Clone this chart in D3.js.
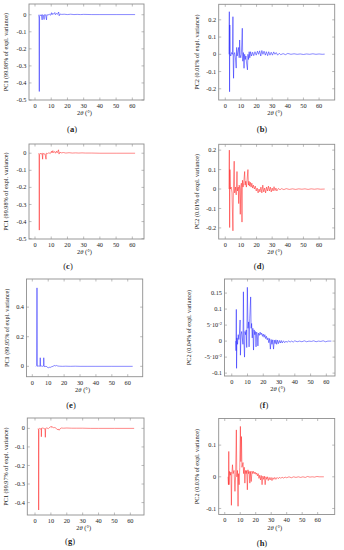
<!DOCTYPE html>
<html>
<head>
<meta charset="utf-8">
<script src="https://cdn.jsdelivr.net/npm/d3@7"></script>
<style>
  body { margin: 0; background: #fff; }
  svg { display: block; }
  text { font-family: "Liberation Serif", "DejaVu Serif", serif; fill: #222; }
</style>
</head>
<body>
<svg id="fig" width="344" height="550"></svg>
<script>
// ---- data: [2theta, loading] pairs ----
const seriesA = [[2.3,0],[2.5,-0.02],[2.65,-0.45],[2.8,-0.01],[3.2,0],[3.6,-0.005],[4.0,0],[4.4,-0.03],[4.6,0],[5.2,-0.003],[5.6,-0.028],[5.8,0],[6.5,0],[7.1,-0.03],[7.3,0],[8,-0.002],[8.8,0.003],[9.5,-0.003],[10.2,0.012],[10.5,0],[11,0.008],[11.5,0.003],[12.2,0.013],[12.6,0],[13.3,0.008],[13.8,0.002],[14.6,0.016],[14.9,-0.006],[15.4,0.004],[16.5,0.002],[18,0.003],[20,0.001],[22,0.003],[24,0.001],[26,0.002],[28,0.001],[30,0.002],[35,0.001],[40,0.001],[50,0.001],[61.7,0.001]];

const seriesB = [[2.4,0],[2.6,0.247],[2.75,-0.217],[2.9,0.17],[3.1,0.005],[3.5,-0.01],[4.0,0.01],[4.6,0],[4.9,0.218],[5.1,-0.05],[5.3,-0.139],[5.6,0],[6.0,0.01],[6.5,-0.02],[7.0,-0.08],[7.3,0.04],[7.6,-0.01],[8.2,0.02],[8.6,0.04],[8.9,-0.02],[9.2,0.083],[9.5,0],[9.9,-0.02],[10.3,0],[10.9,0.151],[11.2,-0.04],[11.6,0.01],[12.0,-0.081],[12.4,0],[12.8,-0.03],[13.2,-0.01],[13.6,-0.05],[14.2,-0.09],[14.5,0],[14.9,-0.03],[15.3,0.015],[15.7,-0.02],[16.2,0.015],[16.8,-0.01],[17.5,0.012],[18.2,-0.008],[19,0.015],[19.8,-0.005],[20.6,0.018],[21.3,0],[22,0.02],[22.7,-0.01],[23.4,0.022],[24.1,0],[24.8,0.018],[25.6,-0.005],[26.3,0.015],[27.1,-0.008],[27.8,0.015],[28.6,-0.005],[29.4,0.012],[30.2,-0.005],[31,0.014],[31.8,0],[32.6,0.01],[33.5,-0.005],[34.5,0.006],[35.5,-0.002],[37,0.004],[38.5,-0.002],[40,0.005],[42,0],[44,0.003],[46,0],[48,0.002],[50,-0.001],[52,0.002],[54,0],[56,0.003],[58,0],[60,0.002],[62,0],[63.6,0.001]];

const seriesC = [[2.3,0],[2.5,-0.01],[2.65,-0.45],[2.8,-0.01],[3.2,0],[3.8,-0.005],[4.4,0],[4.7,-0.035],[4.9,0],[5.5,-0.005],[6.2,-0.004],[6.8,-0.035],[7.0,0],[7.8,-0.002],[8.6,0.003],[9.4,-0.002],[10.2,0.012],[10.5,0.002],[11.0,0.015],[11.4,0.004],[12.0,0.01],[12.6,0],[13.2,0.012],[13.7,0.003],[14.5,0.02],[14.8,-0.005],[15.3,0.006],[16.2,0.002],[17.5,0.004],[19,0.001],[21,0.003],[23,0.001],[25,0.002],[27,0.001],[29,0.002],[31,0.001],[35,0.001],[40,0],[50,0],[61.7,0]];

const seriesD = [[2.4,0],[2.6,0.2],[2.8,-0.198],[3.0,0.1],[3.3,0],[3.8,0.01],[4.3,-0.02],[4.9,-0.215],[5.2,0],[5.7,0.143],[6.0,-0.02],[6.5,0.01],[7.0,-0.03],[7.5,0.09],[7.8,-0.01],[8.3,0.01],[8.6,-0.075],[8.9,0.02],[9.3,0],[9.6,-0.13],[9.9,0.01],[10.3,0.03],[10.7,-0.17],[11.0,0.045],[11.4,0.01],[11.8,0.03],[12.4,0.09],[12.7,0.02],[13.1,0.04],[13.5,0.01],[14.0,0.05],[14.5,0.1],[14.8,0.02],[15.2,0.04],[15.6,0.015],[16.0,0.035],[16.5,0.01],[17.0,0.03],[17.5,0.005],[18.0,0.02],[18.6,0],[19.2,0.015],[19.8,-0.01],[20.4,0.005],[21,-0.02],[21.6,0],[22.2,-0.015],[22.8,0.01],[23.4,-0.02],[24.0,0.02],[24.6,-0.015],[25.2,0.005],[25.8,-0.02],[26.4,0.01],[27,-0.01],[27.6,0.015],[28.2,-0.01],[28.8,0.01],[29.4,-0.015],[30,0.005],[30.6,-0.01],[31.2,0.012],[31.8,-0.008],[32.4,0.005],[33,-0.01],[34,0.003],[35,-0.004],[36,0.002],[37.5,-0.003],[39,0.002],[41,-0.002],[43,0.001],[45,-0.002],[47,0.001],[49,-0.001],[51,0.001],[53,-0.002],[55,0.001],[57,-0.001],[59,0.001],[61,-0.001],[63.6,0]];

const seriesE = [[2.3,0],[2.7,0.005],[2.95,0.53],[3.15,0],[3.6,0.004],[4.2,0],[4.8,0.002],[5.0,0.058],[5.2,0],[5.8,0.002],[6.5,0],[7.1,0.003],[7.2,0.058],[7.4,0],[8.0,-0.003],[8.6,0.002],[9.3,-0.005],[10.0,-0.01],[10.6,-0.006],[11.2,-0.008],[12.0,-0.003],[13.0,0],[13.6,0.004],[14.2,0.006],[14.8,0.002],[15.3,0.006],[16,0.002],[17,0.001],[19,0],[21,0.001],[24,0],[27,0.001],[30,0],[35,0],[40,0],[50,0],[63.1,0]];

const seriesF = [[2.5,0],[2.7,-0.03],[2.9,0.099],[3.05,-0.085],[3.3,0.01],[3.7,-0.01],[4.1,0.02],[4.5,0.005],[4.9,0.025],[5.3,0.066],[5.5,-0.044],[5.9,0.02],[6.3,0.03],[6.7,0.01],[7.1,-0.01],[7.4,0.154],[7.7,0],[8.1,-0.05],[8.4,0.03],[8.8,0.02],[9.2,0.035],[9.5,-0.02],[9.9,0.168],[10.3,0.04],[10.7,0.06],[11.0,-0.018],[11.4,0.07],[12.0,0.138],[12.3,0.04],[12.6,0.055],[13.0,0.01],[13.4,0.04],[13.8,-0.028],[14.2,0.035],[14.6,0.02],[15.0,0.03],[15.4,-0.018],[15.8,0.028],[16.2,0.02],[16.6,-0.015],[17.0,0.025],[17.5,0.018],[18.0,0.028],[18.5,0.02],[19.0,0.025],[19.5,0.015],[20.0,0.022],[20.5,0.012],[21,0.02],[21.5,0.008],[22,0.015],[22.5,0.004],[23,0.01],[23.5,-0.005],[24,0.008],[24.5,-0.025],[25,0.005],[25.5,-0.01],[26,0.004],[26.5,-0.025],[27,0.003],[27.5,-0.008],[28,0.004],[28.5,-0.01],[29,0.003],[29.6,-0.008],[30.2,0.002],[30.8,-0.006],[31.4,0.002],[32,-0.006],[32.8,0.001],[33.6,-0.005],[34.4,0],[35.2,-0.004],[36,0.001],[37,-0.003],[38,0],[39,-0.003],[40,0.001],[41.5,-0.002],[43,0],[44.5,-0.002],[46,0.001],[47.5,-0.002],[49,0],[50.5,-0.001],[52,0.001],[53.5,-0.002],[55,0],[56.5,-0.001],[58,0.001],[59.5,-0.002],[61,0],[63.2,0]];

const seriesG = [[2.0,0],[2.2,-0.01],[2.3,-0.44],[2.45,-0.005],[2.9,0],[3.5,-0.003],[3.9,0],[4.0,-0.045],[4.15,0],[4.8,0.002],[5.5,0],[6.3,-0.003],[6.5,-0.048],[6.7,0],[7.5,0.003],[8.3,-0.002],[9.0,0.004],[9.6,0.006],[10.2,0.012],[10.6,0.004],[11.2,0.008],[11.8,0.003],[12.5,0.005],[13.4,0],[14.2,-0.008],[14.6,-0.003],[15.2,-0.01],[15.8,-0.002],[16.5,0.002],[18,0.001],[20,0.002],[23,0.001],[26,0.001],[30,0.001],[35,0],[40,0],[50,0],[62.4,0]];

const seriesH = [[2.1,0],[2.4,-0.025],[2.6,0.08],[2.8,-0.025],[3.1,0.017],[3.6,0.005],[4.0,0.015],[4.3,-0.09],[4.6,0.01],[5.0,0.038],[5.4,0.01],[6.0,0.02],[6.6,-0.046],[7.0,0],[7.5,0.148],[7.8,0],[8.2,0.02],[8.6,-0.093],[8.9,0.01],[9.3,-0.025],[9.7,0.03],[10.1,0.159],[10.4,0.048],[10.8,0.127],[11.1,0.03],[11.5,0.038],[11.8,0.045],[12.2,0.01],[12.6,0.03],[13.0,-0.02],[13.4,0.02],[13.8,0.01],[14.2,0.02],[14.6,-0.041],[15.0,0.022],[15.4,0.01],[15.8,0.017],[16.2,-0.02],[16.6,0.017],[17.1,-0.015],[17.6,0.018],[18.1,0.01],[18.6,0.017],[19.1,0.01],[19.6,0.015],[20.1,0.008],[20.6,0.012],[21.1,0.003],[21.6,0.01],[22.1,-0.005],[22.6,0.005],[23.1,-0.01],[23.6,0.004],[24.1,-0.025],[24.6,0.002],[25.1,-0.008],[25.6,0.002],[26.1,-0.025],[26.6,0],[27.1,-0.008],[27.6,0],[28.1,-0.012],[28.7,-0.002],[29.3,-0.01],[29.9,-0.002],[30.5,-0.012],[31.1,-0.003],[31.7,-0.008],[32.3,-0.002],[33,-0.008],[33.8,-0.002],[34.6,-0.006],[35.4,-0.001],[36.2,-0.005],[37,-0.001],[38,-0.004],[39,-0.001],[40,-0.003],[41.5,0],[43,-0.003],[44.5,0],[46,-0.002],[47.5,0],[49,-0.002],[50.5,0],[52,-0.002],[53.5,0.001],[55,-0.001],[56.5,0],[58,-0.001],[59.5,0.001],[61,0],[64,0]];

// ---- tick values ----
const xTicks = [0, 10, 20, 30, 40, 50, 60];
const yTicksPC1 = [0, -0.1, -0.2, -0.3, -0.4, -0.5];
const yTicksPC2 = [-0.2, -0.1, 0, 0.1, 0.2];
const yTicksE = [0, 0.2, 0.4];
const yTicksF = [-0.1, -0.05, 0, 0.05, 0.1, 0.15];
const yTicksH = [-0.1, 0, 0.1];

const yTitles = [
  "PC1 (99.98% of expl. variance)", "PC2 (0.01% of expl. variance)",
  "PC1 (99.98% of expl. variance)", "PC2 (0.01% of expl. variance)",
  "PC1 (99.95% of expl. variance)", "PC2 (0.04% of expl. variance)",
  "PC1 (99.97% of expl. variance)", "PC2 (0.03% of expl. variance)"
];
const letters = ["a", "b", "c", "d", "e", "f", "g", "h"];

const BLUE = "#1a1aff", RED = "#ff1a1a";

// layout: frame box [left, top, right, bottom], domains, title and letter spots
const panels = [
  { data: seriesA, color: BLUE, box: [29, 4, 144, 100],      xd: [-3.7, 67.2], yd: [-0.5, 0.063],  yt: yTicksPC1, tx: 7.5,   lx: 72,  ly: 132 },
  { data: seriesB, color: BLUE, box: [218.7, 4.3, 334.7, 100], xd: [-4.2, 70.0], yd: [-0.265, 0.29], yt: yTicksPC2, tx: 199,  lx: 262, ly: 132 },
  { data: seriesC, color: RED,  box: [29, 144, 144, 239],    xd: [-3.7, 67.2], yd: [-0.502, 0.054], yt: yTicksPC1, tx: 7.5,   lx: 68,  ly: 269 },
  { data: seriesD, color: RED,  box: [218.7, 144.3, 334.7, 239], xd: [-4.2, 70.0], yd: [-0.257, 0.23], yt: yTicksPC2, tx: 199, lx: 259, ly: 269 },
  { data: seriesE, color: BLUE, box: [26.5, 279, 142.7, 376.7], xd: [-3.65, 69.4], yd: [-0.07, 0.59], yt: yTicksE,   tx: 8.5,   lx: 71,  ly: 408 },
  { data: seriesF, color: BLUE, box: [224.5, 279, 335, 376],  xd: [-4.6, 65.5], yd: [-0.109, 0.194], yt: yTicksF,  tx: 191,   lx: 264, ly: 408 },
  { data: seriesG, color: RED,  box: [27.3, 418, 144, 515],   xd: [-4.85, 68.6], yd: [-0.467, 0.056], yt: yTicksPC1, tx: 7.5,  lx: 70,  ly: 544 },
  { data: seriesH, color: RED,  box: [218.7, 418.5, 334.7, 514.5], xd: [-3.9, 71.0], yd: [-0.119, 0.184], yt: yTicksH, tx: 199, lx: 262, ly: 546 }
];

const svg = d3.select("#fig");
const FRAME = "#8f8f8f";

function yLabel(sel, v, isF) {
  if (isF && Math.abs(Math.abs(v) - 0.05) < 1e-9) {
    sel.text((v < 0 ? "-" : "") + "5\u00b710");
    sel.append("tspan").attr("dy", -2.5).attr("font-size", 4.5).text("-2");
    return;
  }
  sel.text(v === 0 ? "0" : String(v));
}

panels.forEach((p, i) => {
  const [L, T, R, B] = p.box;
  const x = d3.scaleLinear().domain(p.xd).range([L, R]);
  const y = d3.scaleLinear().domain(p.yd).range([B, T]);
  const g = svg.append("g");

  // data trace
  const clipId = "clip" + i;
  g.append("clipPath").attr("id", clipId)
    .append("rect").attr("x", L).attr("y", T).attr("width", R - L).attr("height", B - T);
  g.append("path")
    .datum(p.data)
    .attr("clip-path", `url(#${clipId})`)
    .attr("fill", "none")
    .attr("stroke", p.color)
    .attr("stroke-width", 0.6)
    .attr("stroke-opacity", 0.85)
    .attr("stroke-linejoin", "round")
    .attr("d", d3.line().x(d => x(d[0])).y(d => y(d[1])));

  // frame
  g.append("rect")
    .attr("x", L).attr("y", T).attr("width", R - L).attr("height", B - T)
    .attr("fill", "none").attr("stroke", FRAME).attr("stroke-width", 0.9);

  // x ticks (bottom + mirrored top)
  const xt = xTicks.filter(v => v >= p.xd[0] && v <= p.xd[1]);
  g.selectAll(null).data(xt).join("line")
    .attr("x1", d => x(d)).attr("x2", d => x(d))
    .attr("y1", B).attr("y2", B - 2.5)
    .attr("stroke", FRAME).attr("stroke-width", 0.6);
  g.selectAll(null).data(xt).join("line")
    .attr("x1", d => x(d)).attr("x2", d => x(d))
    .attr("y1", T).attr("y2", T + 2.5)
    .attr("stroke", FRAME).attr("stroke-width", 0.6);
  g.selectAll(null).data(xt).join("text")
    .attr("x", d => x(d)).attr("y", B + 7.8)
    .attr("text-anchor", "middle").attr("font-size", 6.3)
    .text(d => d);

  // y ticks
  const yt = p.yt.filter(v => v >= p.yd[0] - 1e-9 && v <= p.yd[1]);
  g.selectAll(null).data(yt).join("line")
    .attr("x1", L).attr("x2", L + 2.5)
    .attr("y1", d => y(d)).attr("y2", d => y(d))
    .attr("stroke", FRAME).attr("stroke-width", 0.6);
  g.selectAll(null).data(yt).join("line")
    .attr("x1", R).attr("x2", R - 2.5)
    .attr("y1", d => y(d)).attr("y2", d => y(d))
    .attr("stroke", FRAME).attr("stroke-width", 0.6);
  g.selectAll(null).data(yt).join("text")
    .attr("x", L - 2.5).attr("y", d => y(d) + 2.1)
    .attr("text-anchor", "end").attr("font-size", 6.3)
    .each(function (d) { yLabel(d3.select(this), d, i === 5); });

  // axis titles
  const xt2 = g.append("text")
    .attr("x", (L + R) / 2 - 2).attr("y", B + 15)
    .attr("text-anchor", "middle").attr("font-size", 6.5);
  xt2.append("tspan").text("2");
  xt2.append("tspan").attr("font-style", "italic").text("\u03b8");
  xt2.append("tspan").text(" (\u00b0)");

  g.append("text")
    .attr("transform", `translate(${p.tx},${(T + B) / 2}) rotate(-90)`)
    .attr("text-anchor", "middle").attr("font-size", 6.2)
    .text(yTitles[i]);

  // panel letter
  const lt = g.append("text")
    .attr("x", p.lx).attr("y", p.ly)
    .attr("text-anchor", "middle").attr("font-size", 8.5);
  lt.append("tspan").text("(");
  lt.append("tspan").attr("font-weight", "bold").text(letters[i]);
  lt.append("tspan").text(")");
});
</script>
</body>
</html>
